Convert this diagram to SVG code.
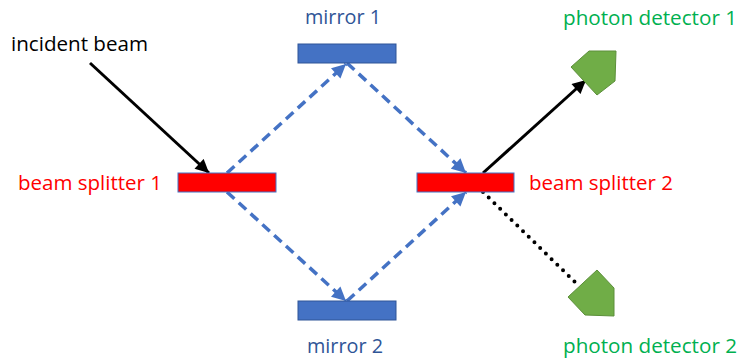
<svg xmlns="http://www.w3.org/2000/svg" width="741" height="360" viewBox="0 0 741 360">
<style>
text{font-family:"Open Sans","Liberation Sans",sans-serif;font-size:20px}
.red{fill:#FF0000}
.blue{fill:#2F5597}
.green{fill:#00B050}
.blk{fill:#000}
.bs{fill:#FF0000;stroke:#4472C4;stroke-width:1}
.mir{fill:#4472C4;stroke:#2F5597;stroke-width:1}
.det{fill:#70AD47;stroke:#5C8F3A;stroke-width:1}
.beam{stroke:#4472C4;stroke-width:3.5;stroke-dasharray:10 6;fill:none}
.solid{stroke:#000;stroke-width:3;fill:none}
.dot{stroke:#000;stroke-width:4;stroke-dasharray:0 8;stroke-linecap:round;fill:none}
</style>
<defs>
<marker id="ab" viewBox="0 0 10 10" refX="10" refY="5" markerWidth="5" markerHeight="4.5" orient="auto" markerUnits="strokeWidth">
<path d="M0,0 L10,5 L0,10 Z" fill="#000"/>
</marker>
<marker id="au" viewBox="0 0 10 10" refX="10" refY="5" markerWidth="4.5" markerHeight="4" orient="auto" markerUnits="strokeWidth">
<path d="M0,0 L10,5 L0,10 Z" fill="#4472C4"/>
</marker>
</defs>
<g id="connectors">
<line class="solid" x1="90" y1="63" x2="209" y2="173" marker-end="url(#ab)"/>
<line class="beam" x1="227" y1="173" x2="346" y2="64" marker-end="url(#au)"/>
<line class="beam" x1="347" y1="63" x2="466" y2="173" marker-end="url(#au)"/>
<line class="beam" x1="227" y1="192" x2="346" y2="301" marker-end="url(#au)"/>
<line class="beam" x1="347" y1="301" x2="466" y2="192" marker-end="url(#au)"/>
<line class="solid" x1="483" y1="173" x2="586" y2="80" marker-end="url(#ab)"/>
<line class="dot" x1="483" y1="192" x2="579" y2="286"/>
</g>
<g id="beam-splitter-1"><rect class="bs" x="178" y="173" width="98" height="19"/><text class="red" x="18" y="190" textLength="144" lengthAdjust="spacingAndGlyphs">beam splitter 1</text></g>
<g id="beam-splitter-2"><rect class="bs" x="417" y="173" width="97" height="19"/><text class="red" x="529" y="190" textLength="144" lengthAdjust="spacingAndGlyphs">beam splitter 2</text></g>
<g id="mirror-1"><rect class="mir" x="298" y="44" width="98" height="19"/><text class="blue" x="305" y="24" textLength="76" lengthAdjust="spacingAndGlyphs">mirror 1</text></g>
<g id="mirror-2"><rect class="mir" x="298" y="301" width="98" height="19"/><text class="blue" x="307" y="353" textLength="76" lengthAdjust="spacingAndGlyphs">mirror 2</text></g>
<g id="incident-beam"><text class="blk" x="11" y="51" textLength="137" lengthAdjust="spacingAndGlyphs">incident beam</text></g>
<g id="photon-detector-1"><polygon class="det" points="589,51 616,51 615,81 597,95 571,67"/><text class="green" x="563" y="25" textLength="174" lengthAdjust="spacingAndGlyphs">photon detector 1</text></g>
<g id="photon-detector-2"><polygon class="det" points="597,270 614,288 614,316 585,315 568,297"/><text class="green" x="563" y="353" textLength="174" lengthAdjust="spacingAndGlyphs">photon detector 2</text></g>
</svg>
